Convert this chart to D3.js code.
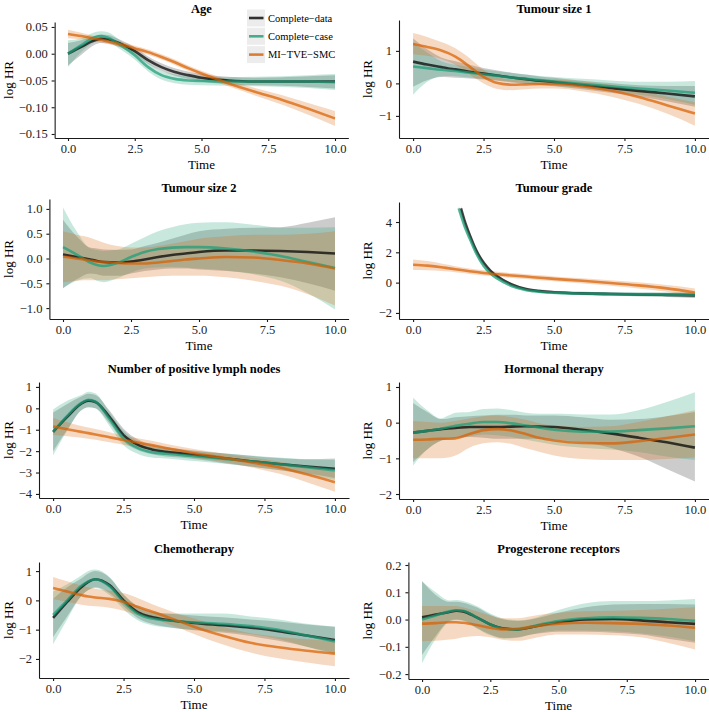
<!DOCTYPE html>
<html><head><meta charset="utf-8">
<script src="https://cdn.jsdelivr.net/npm/d3@7"></script>
<style>
html,body{margin:0;padding:0;background:#fff;}
svg{display:block;font-family:"Liberation Serif","Times New Roman",serif;}
</style></head>
<body>
<svg id="chart" width="709" height="712"></svg>
<script>
// ---------- DATA ----------
const T = [0, 0.5, 1, 1.25, 1.5, 2, 2.5, 3, 3.5, 4, 4.5, 5, 6, 7, 8, 9, 10];
const gradeTimesCD = [1.7, 1.85, 2, 2.25, 2.5, 2.75, 3, 3.5, 4, 4.5, 5, 6, 7, 8, 9, 10];
const gradeTimesCC = [1.62, 1.85, 2, 2.25, 2.5, 2.75, 3, 3.5, 4, 4.5, 5, 6, 7, 8, 9, 10];
const methods = ["Complete\u2212data", "Complete\u2212case", "MI\u2212TVE\u2212SMC"];
const methodColors = ["#000000", "#1b9e77", "#d95f02"];
const xTicks = [0, 2.5, 5, 7.5, 10];
const titles = ["Age", "Tumour size 1", "Tumour size 2", "Tumour grade",
  "Number of positive lymph nodes", "Hormonal therapy", "Chemotherapy", "Progesterone receptors"];

// Age
const ageCD   = [0.000,0.013,0.025,0.028,0.027,0.018,0.005,-0.012,-0.025,-0.034,-0.040,-0.045,-0.050,-0.052,-0.052,-0.052,-0.052];
const ageCDlo = [-0.022,-0.002,0.017,0.020,0.019,0.011,-0.002,-0.019,-0.032,-0.041,-0.047,-0.052,-0.057,-0.059,-0.060,-0.062,-0.065];
const ageCDhi = [0.020,0.025,0.033,0.036,0.035,0.025,0.012,-0.005,-0.018,-0.027,-0.033,-0.038,-0.043,-0.045,-0.044,-0.042,-0.040];
const ageCC   = [0.000,0.016,0.031,0.033,0.030,0.015,-0.003,-0.025,-0.040,-0.047,-0.050,-0.051,-0.052,-0.052,-0.052,-0.052,-0.053];
const ageCClo = [-0.025,0.003,0.022,0.025,0.022,0.007,-0.011,-0.033,-0.048,-0.055,-0.058,-0.059,-0.060,-0.061,-0.062,-0.064,-0.068];
const ageCChi = [0.025,0.029,0.040,0.042,0.040,0.023,0.005,-0.017,-0.032,-0.039,-0.042,-0.043,-0.044,-0.043,-0.042,-0.040,-0.038];
const ageMI   = [0.037,0.033,0.028,0.026,0.023,0.017,0.010,0.003,-0.006,-0.016,-0.027,-0.037,-0.055,-0.071,-0.086,-0.103,-0.121];
const ageMIlo = [0.029,0.027,0.023,0.021,0.018,0.012,0.005,-0.002,-0.011,-0.021,-0.032,-0.042,-0.061,-0.078,-0.095,-0.114,-0.135];
const ageMIhi = [0.045,0.039,0.033,0.031,0.028,0.022,0.015,0.008,-0.001,-0.011,-0.022,-0.032,-0.049,-0.064,-0.077,-0.092,-0.107];

// Tumour size 1
const ts1CD   = [0.67,0.58,0.50,0.46,0.43,0.36,0.30,0.24,0.18,0.13,0.08,0.04,-0.05,-0.14,-0.23,-0.31,-0.40];
const ts1CDlo = [-0.10,0.10,0.20,0.19,0.17,0.15,0.12,0.08,0.03,-0.01,-0.05,-0.09,-0.18,-0.29,-0.40,-0.55,-0.72];
const ts1CDhi = [1.38,1.05,0.80,0.73,0.68,0.57,0.47,0.40,0.33,0.27,0.21,0.17,0.08,0.01,-0.06,-0.08,-0.08];
const ts1CC   = [0.52,0.47,0.42,0.40,0.38,0.33,0.28,0.23,0.18,0.14,0.10,0.06,-0.02,-0.09,-0.16,-0.22,-0.29];
const ts1CClo = [-0.35,0.05,0.22,0.23,0.22,0.18,0.14,0.10,0.05,0.01,-0.03,-0.07,-0.15,-0.24,-0.34,-0.48,-0.66];
const ts1CChi = [1.25,0.95,0.68,0.61,0.57,0.50,0.43,0.37,0.32,0.27,0.23,0.20,0.14,0.09,0.05,0.05,0.07];
const ts1MI   = [1.21,1.12,1.01,0.93,0.82,0.52,0.20,0.01,-0.04,-0.03,-0.02,-0.02,-0.09,-0.22,-0.42,-0.67,-0.93];
const ts1MIlo = [0.90,0.85,0.75,0.67,0.57,0.28,0.00,-0.17,-0.21,-0.18,-0.16,-0.16,-0.24,-0.40,-0.63,-0.93,-1.30];
const ts1MIhi = [1.55,1.43,1.27,1.19,1.08,0.78,0.42,0.18,0.12,0.13,0.12,0.12,0.06,-0.04,-0.20,-0.40,-0.58];

// Tumour size 2
const ts2CD   = [0.08,0.03,-0.02,-0.05,-0.07,-0.08,-0.06,-0.02,0.03,0.07,0.10,0.13,0.16,0.16,0.15,0.13,0.10];
const ts2CDlo = [-0.60,-0.42,-0.30,-0.32,-0.35,-0.35,-0.30,-0.25,-0.22,-0.20,-0.20,-0.22,-0.25,-0.30,-0.38,-0.50,-0.65];
const ts2CDhi = [0.78,0.45,0.22,0.20,0.18,0.17,0.18,0.25,0.32,0.40,0.48,0.55,0.60,0.62,0.63,0.72,0.83];
const ts2CC   = [0.23,0.08,-0.08,-0.13,-0.15,-0.09,0.03,0.13,0.19,0.22,0.23,0.23,0.20,0.14,0.05,-0.07,-0.19];
const ts2CClo = [-0.60,-0.45,-0.40,-0.45,-0.48,-0.40,-0.28,-0.20,-0.18,-0.17,-0.18,-0.20,-0.24,-0.32,-0.45,-0.70,-1.03];
const ts2CChi = [1.03,0.55,0.20,0.17,0.15,0.18,0.30,0.43,0.55,0.63,0.69,0.72,0.73,0.68,0.62,0.62,0.63];
const ts2MI   = [0.04,0.00,-0.04,-0.06,-0.07,-0.09,-0.10,-0.10,-0.08,-0.05,-0.02,0.00,0.03,0.02,-0.03,-0.10,-0.20];
const ts2MIlo = [-0.48,-0.45,-0.44,-0.44,-0.44,-0.42,-0.40,-0.38,-0.36,-0.35,-0.35,-0.35,-0.38,-0.45,-0.55,-0.72,-0.95];
const ts2MIhi = [0.55,0.48,0.42,0.37,0.32,0.25,0.22,0.22,0.25,0.30,0.35,0.40,0.45,0.48,0.48,0.50,0.55];

// Tumour grade (CD and CC on their own time grids)
const grCD   = [4.90,3.95,3.20,2.10,1.32,0.78,0.40,-0.12,-0.42,-0.56,-0.63,-0.71,-0.75,-0.78,-0.81,-0.84];
const grCDlo = [4.75,3.80,3.05,1.97,1.20,0.67,0.30,-0.22,-0.52,-0.66,-0.73,-0.81,-0.86,-0.90,-0.95,-1.02];
const grCDhi = [5.05,4.10,3.35,2.23,1.44,0.89,0.50,-0.02,-0.32,-0.46,-0.53,-0.61,-0.64,-0.66,-0.67,-0.66];
const grCC   = [4.90,3.60,2.95,1.90,1.12,0.60,0.26,-0.22,-0.48,-0.60,-0.66,-0.72,-0.75,-0.77,-0.79,-0.81];
const grCClo = [4.72,3.45,2.80,1.77,1.00,0.48,0.15,-0.32,-0.58,-0.70,-0.77,-0.83,-0.87,-0.90,-0.93,-0.98];
const grCChi = [5.08,3.75,3.10,2.03,1.24,0.72,0.37,-0.12,-0.38,-0.50,-0.55,-0.61,-0.63,-0.64,-0.65,-0.64];
const grMI   = [1.18,1.12,1.02,0.95,0.88,0.75,0.64,0.55,0.47,0.40,0.32,0.25,0.12,-0.02,-0.18,-0.38,-0.65];
const grMIlo = [0.83,0.82,0.77,0.73,0.68,0.57,0.47,0.39,0.31,0.24,0.16,0.09,-0.05,-0.20,-0.38,-0.60,-0.92];
const grMIhi = [1.53,1.42,1.27,1.18,1.08,0.93,0.81,0.71,0.63,0.56,0.48,0.41,0.29,0.16,0.02,-0.16,-0.38];

// Number of positive lymph nodes
const lnCD   = [-1.10,-0.40,0.22,0.36,0.30,-0.40,-1.25,-1.70,-1.92,-2.03,-2.10,-2.17,-2.32,-2.47,-2.60,-2.72,-2.82];
const lnCDlo = [-2.00,-1.00,-0.10,0.05,0.00,-0.70,-1.55,-1.95,-2.15,-2.25,-2.30,-2.37,-2.55,-2.72,-2.88,-3.05,-3.25];
const lnCDhi = [-0.20,0.20,0.55,0.68,0.62,-0.10,-0.95,-1.45,-1.70,-1.82,-1.90,-1.97,-2.10,-2.22,-2.32,-2.38,-2.35];
const lnCC   = [-1.10,-0.35,0.25,0.40,0.32,-0.50,-1.40,-1.85,-2.05,-2.12,-2.18,-2.24,-2.35,-2.47,-2.60,-2.75,-2.90];
const lnCClo = [-2.20,-1.05,-0.08,0.05,0.00,-0.82,-1.72,-2.12,-2.30,-2.35,-2.40,-2.46,-2.58,-2.72,-2.88,-3.10,-3.35];
const lnCChi = [-0.05,0.35,0.62,0.78,0.70,-0.18,-1.05,-1.55,-1.80,-1.88,-1.94,-2.00,-2.10,-2.20,-2.30,-2.38,-2.42];
const lnMI   = [-0.85,-0.98,-1.10,-1.16,-1.22,-1.35,-1.48,-1.60,-1.72,-1.85,-1.97,-2.10,-2.30,-2.52,-2.75,-3.08,-3.45];
const lnMIlo = [-1.25,-1.30,-1.38,-1.42,-1.47,-1.58,-1.70,-1.82,-1.93,-2.03,-2.15,-2.30,-2.50,-2.75,-3.05,-3.45,-3.90];
const lnMIhi = [-0.45,-0.65,-0.82,-0.90,-0.97,-1.12,-1.27,-1.40,-1.52,-1.65,-1.78,-1.90,-2.10,-2.30,-2.48,-2.72,-2.98];

// Hormonal therapy
const htCD   = [-0.28,-0.23,-0.18,-0.16,-0.15,-0.12,-0.12,-0.12,-0.11,-0.10,-0.11,-0.12,-0.20,-0.30,-0.42,-0.55,-0.70];
const htCDlo = [-1.10,-0.75,-0.50,-0.45,-0.42,-0.40,-0.42,-0.45,-0.45,-0.45,-0.45,-0.47,-0.55,-0.70,-0.95,-1.30,-1.65];
const htCDhi = [0.55,0.30,0.10,0.12,0.15,0.18,0.20,0.22,0.22,0.20,0.20,0.20,0.15,0.08,0.10,0.18,0.30];
const htCC   = [-0.28,-0.23,-0.17,-0.13,-0.09,-0.03,0.02,0.02,-0.02,-0.08,-0.14,-0.20,-0.25,-0.25,-0.21,-0.16,-0.10];
const htCClo = [-1.20,-0.75,-0.50,-0.47,-0.45,-0.38,-0.33,-0.35,-0.40,-0.48,-0.55,-0.62,-0.70,-0.75,-0.82,-0.95,-1.05];
const htCChi = [0.70,0.35,0.12,0.20,0.28,0.30,0.38,0.40,0.35,0.28,0.25,0.25,0.23,0.23,0.35,0.58,0.85];
const htMI   = [-0.48,-0.47,-0.45,-0.45,-0.44,-0.32,-0.21,-0.18,-0.22,-0.32,-0.43,-0.50,-0.57,-0.58,-0.52,-0.43,-0.33];
const htMIlo = [-1.00,-1.00,-1.00,-0.98,-0.92,-0.70,-0.58,-0.55,-0.60,-0.72,-0.82,-0.92,-1.02,-1.05,-1.05,-1.02,-0.98];
const htMIhi = [0.05,0.02,0.00,0.02,0.05,0.12,0.18,0.20,0.15,0.08,-0.02,-0.08,-0.12,-0.10,0.02,0.18,0.35];

// Chemotherapy
const chCD   = [-0.60,-0.05,0.45,0.63,0.72,0.52,0.00,-0.40,-0.57,-0.66,-0.72,-0.77,-0.85,-0.93,-1.05,-1.20,-1.35];
const chCDlo = [-1.25,-0.55,0.15,0.35,0.45,0.25,-0.20,-0.60,-0.80,-0.90,-0.97,-1.02,-1.10,-1.22,-1.38,-1.58,-1.80];
const chCDhi = [0.05,0.45,0.75,0.92,1.00,0.78,0.20,-0.20,-0.38,-0.45,-0.48,-0.52,-0.58,-0.65,-0.72,-0.82,-0.90];
const chCC   = [-0.50,0.00,0.50,0.65,0.72,0.48,-0.05,-0.45,-0.62,-0.68,-0.72,-0.75,-0.80,-0.88,-1.00,-1.20,-1.40];
const chCClo = [-1.50,-0.65,0.15,0.35,0.42,0.18,-0.30,-0.68,-0.85,-0.92,-0.97,-1.00,-1.05,-1.15,-1.32,-1.58,-1.85];
const chCChi = [0.30,0.55,0.85,1.00,1.05,0.80,0.20,-0.22,-0.40,-0.45,-0.45,-0.45,-0.45,-0.55,-0.65,-0.80,-0.90];
const chMI   = [0.42,0.30,0.18,0.13,0.10,0.05,-0.05,-0.22,-0.38,-0.55,-0.72,-0.90,-1.20,-1.45,-1.60,-1.72,-1.82];
const chMIlo = [0.05,-0.05,-0.15,-0.18,-0.20,-0.25,-0.35,-0.50,-0.62,-0.78,-0.95,-1.15,-1.50,-1.78,-1.98,-2.12,-2.25];
const chMIhi = [0.80,0.65,0.50,0.45,0.40,0.33,0.25,0.08,-0.12,-0.30,-0.48,-0.62,-0.90,-1.12,-1.25,-1.33,-1.40];

// Progesterone receptors
const prCD   = [0.008,0.018,0.028,0.032,0.030,0.008,-0.018,-0.033,-0.036,-0.028,-0.018,-0.010,0.000,0.002,-0.003,-0.010,-0.016];
const prCDlo = [-0.130,-0.060,-0.005,0.000,-0.003,-0.030,-0.055,-0.068,-0.065,-0.055,-0.048,-0.045,-0.045,-0.048,-0.055,-0.070,-0.085];
const prCDhi = [0.140,0.090,0.065,0.065,0.062,0.045,0.018,0.000,-0.005,0.000,0.012,0.025,0.045,0.055,0.057,0.057,0.055];
const prCC   = [0.000,0.015,0.030,0.034,0.032,0.008,-0.018,-0.034,-0.036,-0.026,-0.015,-0.005,0.005,0.008,0.006,0.002,-0.005];
const prCClo = [-0.160,-0.070,-0.008,-0.002,-0.005,-0.033,-0.058,-0.070,-0.067,-0.055,-0.045,-0.040,-0.040,-0.043,-0.050,-0.062,-0.080];
const prCChi = [0.140,0.100,0.070,0.072,0.068,0.050,0.022,0.003,-0.003,0.003,0.018,0.035,0.060,0.068,0.068,0.070,0.075];
const prMI   = [-0.015,-0.013,-0.010,-0.010,-0.012,-0.020,-0.030,-0.036,-0.034,-0.027,-0.020,-0.015,-0.012,-0.013,-0.016,-0.022,-0.030];
const prMIlo = [-0.080,-0.078,-0.073,-0.070,-0.065,-0.060,-0.065,-0.075,-0.078,-0.070,-0.060,-0.055,-0.055,-0.058,-0.065,-0.085,-0.110];
const prMIhi = [0.050,0.050,0.050,0.050,0.045,0.030,0.015,0.005,0.005,0.012,0.020,0.025,0.030,0.032,0.035,0.040,0.045];

const yTicks = [
  [-0.15,-0.10,-0.05,0.00,0.05], [-1,0,1], [-1.0,-0.5,0.0,0.5,1.0], [-2,0,2,4],
  [-4,-3,-2,-1,0,1], [-2,-1,0,1], [-2,-1,0,1], [-0.2,-0.1,0.0,0.1,0.2]
];
const yFormats = [".2f", "d", ".1f", "d", "d", "d", "d", ".1f"];

// ---------- assemble ----------
const S = (t, est, lo, hi) => ({t, est, lo, hi});
const panelSeries = [
  [S(T,ageCD,ageCDlo,ageCDhi), S(T,ageCC,ageCClo,ageCChi), S(T,ageMI,ageMIlo,ageMIhi)],
  [S(T,ts1CD,ts1CDlo,ts1CDhi), S(T,ts1CC,ts1CClo,ts1CChi), S(T,ts1MI,ts1MIlo,ts1MIhi)],
  [S(T,ts2CD,ts2CDlo,ts2CDhi), S(T,ts2CC,ts2CClo,ts2CChi), S(T,ts2MI,ts2MIlo,ts2MIhi)],
  [S(gradeTimesCD,grCD,grCDlo,grCDhi), S(gradeTimesCC,grCC,grCClo,grCChi), S(T,grMI,grMIlo,grMIhi)],
  [S(T,lnCD,lnCDlo,lnCDhi), S(T,lnCC,lnCClo,lnCChi), S(T,lnMI,lnMIlo,lnMIhi)],
  [S(T,htCD,htCDlo,htCDhi), S(T,htCC,htCClo,htCChi), S(T,htMI,htMIlo,htMIhi)],
  [S(T,chCD,chCDlo,chCDhi), S(T,chCC,chCClo,chCChi), S(T,chMI,chMIlo,chMIhi)],
  [S(T,prCD,prCDlo,prCDhi), S(T,prCC,prCClo,prCChi), S(T,prMI,prMIlo,prMIhi)]
];

// ---------- layout (pixels) ----------
const layout = [
  {l:54.65, r:348.35, t:22,  b:138, yd:[-0.1575,0.0593], ty:12.5, lx:12.5},
  {l:399,   r:709,    t:20,  b:138, yd:[-1.68,1.95],     ty:12.5, lx:371.5},
  {l:49.4,  r:348.6,  t:199, b:319, yd:[-1.22,1.20],     ty:192,  lx:12.5},
  {l:399,   r:709,    t:202, b:319, yd:[-2.40,5.32],     ty:192,  lx:371.5},
  {l:39,    r:349,    t:382, b:498, yd:[-4.19,1.23],     ty:372.5,lx:12.5},
  {l:399,   r:709,    t:382, b:499, yd:[-2.14,1.14],     ty:372.5,lx:371.5},
  {l:39,    r:349,    t:562, b:678, yd:[-2.65,1.31],     ty:552.5,lx:12.5},
  {l:408.4, r:708.7,  t:562, b:679, yd:[-0.218,0.211],   ty:552.5,lx:371.5}
];

const svg = d3.select("#chart");
const defs = svg.append("defs");

layout.forEach((L, i) => {
  const x = d3.scaleLinear().domain([-0.5, 10.5]).range([L.l, L.r]);
  const y = d3.scaleLinear().domain(L.yd).range([L.b, L.t]);
  const g = svg.append("g");

  defs.append("clipPath").attr("id", "clip" + i)
    .append("rect").attr("x", L.l).attr("y", L.t).attr("width", L.r - L.l).attr("height", L.b - L.t);
  const plot = g.append("g").attr("clip-path", `url(#clip${i})`);

  const series = panelSeries[i];
  const area = d3.area().curve(d3.curveMonotoneX)
    .x(d => x(d.t)).y0(d => y(d.lo)).y1(d => y(d.hi));
  const line = d3.line().curve(d3.curveMonotoneX)
    .x(d => x(d.t)).y(d => y(d.v));

  series.forEach((s, k) => {
    const pts = s.t.map((t, j) => ({t, lo: s.lo[j], hi: s.hi[j]}));
    plot.append("path").attr("d", area(pts))
      .attr("fill", methodColors[k]).attr("fill-opacity", k === 0 ? 0.2 : 0.24).attr("stroke", "none");
  });
  series.forEach((s, k) => {
    const pts = s.t.map((t, j) => ({t, v: s.est[j]}));
    plot.append("path").attr("d", line(pts))
      .attr("fill", "none").attr("stroke", methodColors[k]).attr("stroke-opacity", 0.72)
      .attr("stroke-width", 2.6).attr("stroke-linecap", "butt");
  });

  // axes
  const xAxis = d3.axisBottom(x).tickValues(xTicks).tickFormat(d3.format(".1f"))
    .tickSize(3).tickSizeOuter(0).tickPadding(3);
  const yAxis = d3.axisLeft(y).tickValues(yTicks[i]).tickFormat(d3.format(yFormats[i]))
    .tickSize(3).tickSizeOuter(0).tickPadding(4);
  const gx = g.append("g").attr("transform", `translate(0,${L.b})`).call(xAxis);
  const gy = g.append("g").attr("transform", `translate(${L.l},0)`).call(yAxis);
  [gx, gy].forEach(a => {
    a.selectAll("path.domain").attr("stroke", "#1a1a1a").attr("stroke-width", 1.1);
    a.selectAll(".tick line").attr("stroke", "#1a1a1a").attr("stroke-width", 1.1);
    a.selectAll(".tick text").attr("fill", "#222").style("font-size", "12.5px")
      .style("font-family", '"Liberation Serif","Times New Roman",serif');
  });

  // titles
  const cx = (L.l + L.r) / 2;
  g.append("text").attr("x", cx).attr("y", L.ty).attr("text-anchor", "middle")
    .style("font-weight", "bold").style("font-size", "12.5px").attr("fill", "#000").text(titles[i]);
  g.append("text").attr("x", cx).attr("y", L.b + 31).attr("text-anchor", "middle")
    .style("font-size", "13px").attr("fill", "#000").text("Time");
  g.append("text").attr("transform", `translate(${L.lx},${(L.t + L.b) / 2}) rotate(-90)`)
    .attr("text-anchor", "middle").style("font-size", "13px").attr("fill", "#000").text("log HR");
});

// legend (in Age panel)
const leg = svg.append("g");
methods.forEach((m, k) => {
  const cy = 18 + k * 18.3;
  leg.append("rect").attr("x", 247).attr("y", cy - 8.5).attr("width", 18).attr("height", 17).attr("fill", "#ececec");
  leg.append("line").attr("x1", 249).attr("x2", 263.5).attr("y1", cy).attr("y2", cy)
    .attr("stroke", methodColors[k]).attr("stroke-opacity", 0.8).attr("stroke-width", 2.6);
  leg.append("text").attr("x", 268).attr("y", cy + 3.6).style("font-size", "10.5px").attr("fill", "#000").text(m);
});
</script>
</body></html>
